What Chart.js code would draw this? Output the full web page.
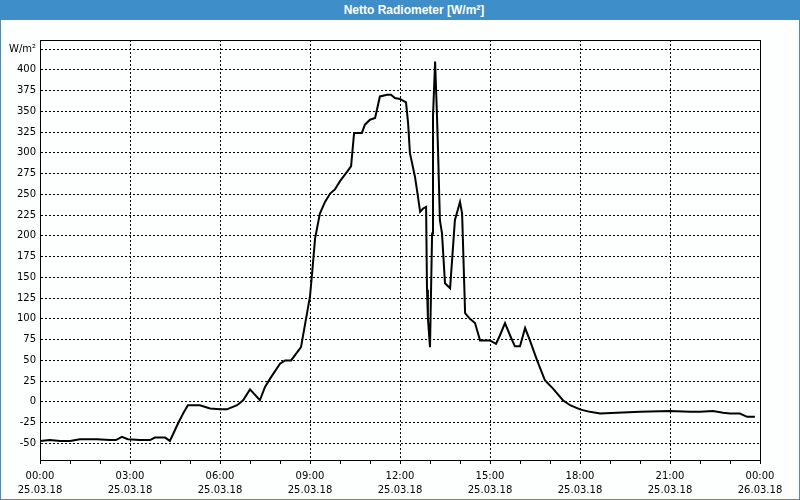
<!DOCTYPE html>
<html>
<head>
<meta charset="utf-8">
<script src="https://cdn.jsdelivr.net/npm/chart.js"></script>
<style>
  html, body { margin: 0; padding: 0; background: #fff; }
  #frame {
    position: absolute; left: 0; top: 0; width: 800px; height: 500px;
    box-sizing: border-box; border: 1px solid #3d8ec9; background: #fdfefe;
  }
  #titlebar {
    position: absolute; left: 0; top: 0; width: 800px; height: 20px;
    background: #3d8ec9; color: #fff;
    font: bold 12px "Liberation Sans", Arial, sans-serif;
    line-height: 20px; text-align: center; text-indent: 28px;
  }
  #wrap { position: absolute; left: 1px; top: 20px; width: 798px; height: 479px; }
</style>
</head>
<body>
<div id="frame"></div>
<div id="titlebar">Netto Radiometer [W/m²]</div>
<div id="wrap"><canvas id="grafico"></canvas></div>
<script>
// ---- datos (hora del día en horas decimales, valor en W/m²) ----
const horas = [
  0.00, 0.33, 0.67, 1.00, 1.33, 1.90, 2.33, 2.53, 2.73, 2.93,
  3.33, 3.67, 3.83, 4.17, 4.33, 4.60, 4.77, 4.93, 5.33, 5.67,
  6.00, 6.23, 6.57, 6.77, 7.00, 7.33, 7.50, 7.67, 8.00, 8.17,
  8.37, 8.70, 9.00, 9.07, 9.17, 9.33, 9.50, 9.67, 9.83, 10.00,
  10.27, 10.37, 10.47, 10.73, 10.83, 11.00, 11.17, 11.33, 11.57, 11.70,
  11.83, 12.00, 12.20, 12.27, 12.33, 12.50, 12.60, 12.67, 12.77, 12.87,
  12.90, 12.93, 13.00, 13.07, 13.10, 13.17, 13.23, 13.27, 13.33, 13.40,
  13.50, 13.67, 13.83, 14.00, 14.07, 14.17, 14.33, 14.50, 14.67, 15.00,
  15.20, 15.33, 15.50, 15.67, 15.83, 16.00, 16.17, 16.33, 16.57, 16.83,
  17.10, 17.43, 17.67, 18.00, 18.33, 18.67, 19.23, 20.00, 21.00, 21.67,
  22.00, 22.43, 22.77, 23.00, 23.33, 23.57, 23.83
];
const valores = [
  -47, -46, -47, -47, -45, -45, -46, -46, -42, -45,
  -46, -46, -43, -43, -47, -26, -14, -4, -4, -8,
  -9, -9, -4, 2, 15, 2, 18, 28, 46, 50,
  50, 66, 127, 155, 197, 227, 241, 251, 256, 266,
  279, 284, 324, 324, 334, 340, 342, 368, 370, 370,
  366, 365, 361, 336, 300, 271, 247, 229, 233, 235,
  135, 101, 66, 203, 344, 410, 348, 300, 219, 203,
  143, 137, 219, 241, 227, 107, 100, 95, 74, 74,
  70, 80, 95, 80, 67, 67, 89, 74, 50, 26,
  16, 2, -4, -9, -12, -14, -13, -12, -11, -12,
  -12, -11, -13, -14, -14, -18, -18
];

// ---- ejes ----
const ticksY = [-50, -25, 0, 25, 50, 75, 100, 125, 150, 175, 200, 225, 250, 275, 300, 325, 350, 375, 400, 425];
const etiquetaUnidad = "W/m²";   // sustituye a la marca 425
const ticksX = [0, 3, 6, 9, 12, 15, 18, 21, 24];
const etiquetasHora = ["00:00", "03:00", "06:00", "09:00", "12:00", "15:00", "18:00", "21:00", "00:00"];
const etiquetasFecha = ["25.03.18", "25.03.18", "25.03.18", "25.03.18", "25.03.18", "25.03.18", "25.03.18", "25.03.18", "26.03.18"];

const fuente = { family: "'DejaVu Sans', Tahoma, sans-serif", size: 10 };

// marco completo alrededor del área del gráfico
const marco = {
  id: "marco",
  afterDraw(chart) {
    const a = chart.chartArea, c = chart.ctx;
    c.save();
    c.strokeStyle = "#000";
    c.lineWidth = 1;
    c.strokeRect(Math.round(a.left) + 0.5, Math.round(a.top) + 0.5,
                 Math.round(a.right - a.left), Math.round(a.bottom - a.top));
    c.restore();
  }
};

new Chart(document.getElementById("grafico"), {
  type: "line",
  data: {
    datasets: [{
      data: horas.map((h, i) => ({ x: h, y: valores[i] })),
      borderColor: "#000",
      borderWidth: 2,
      pointRadius: 0,
      tension: 0,
      fill: false
    }]
  },
  options: {
    responsive: true,
    maintainAspectRatio: false,
    animation: false,
    events: [],
    layout: { padding: { top: 20, right: 39, left: 0, bottom: 0 } },
    plugins: { legend: { display: false }, tooltip: { enabled: false } },
    scales: {
      x: {
        type: "linear",
        min: 0,
        max: 24,
        afterBuildTicks: (s) => {
          const t = [];
          for (let h = 0; h <= 24; h++) t.push({ value: h });
          s.ticks = t;
        },
        afterFit: (s) => { s.height = 39; },
        border: { display: true, color: "#000", width: 1, dash: [2, 2] },
        grid: {
          color: (c) => (c.tick && c.tick.value % 3 === 0 ? "#000" : "rgba(0,0,0,0)"),
          lineWidth: 1,
          drawTicks: true,
          tickLength: 4,
          tickColor: "#000",
          tickBorderDash: []
        },
        ticks: {
          autoSkip: false,
          maxRotation: 0,
          padding: 5,
          color: "#000",
          font: Object.assign({ lineHeight: 1.4 }, fuente),
          callback: (v) => {
            const i = ticksX.indexOf(v);
            return i >= 0 ? [etiquetasHora[i], etiquetasFecha[i]] : "";
          }
        }
      },
      y: {
        min: -70,
        max: 436,
        afterBuildTicks: (s) => { s.ticks = ticksY.map(v => ({ value: v })); },
        afterFit: (s) => { s.width = 39; },
        border: { display: true, color: "#000", width: 1, dash: [2, 2] },
        grid: { color: "#000", lineWidth: 1, drawTicks: false },
        ticks: {
          padding: 4,
          color: "#000",
          font: fuente,
          callback: (v) => (v === 425 ? etiquetaUnidad : v)
        }
      }
    }
  },
  plugins: [marco]
});
</script>
</body>
</html>
